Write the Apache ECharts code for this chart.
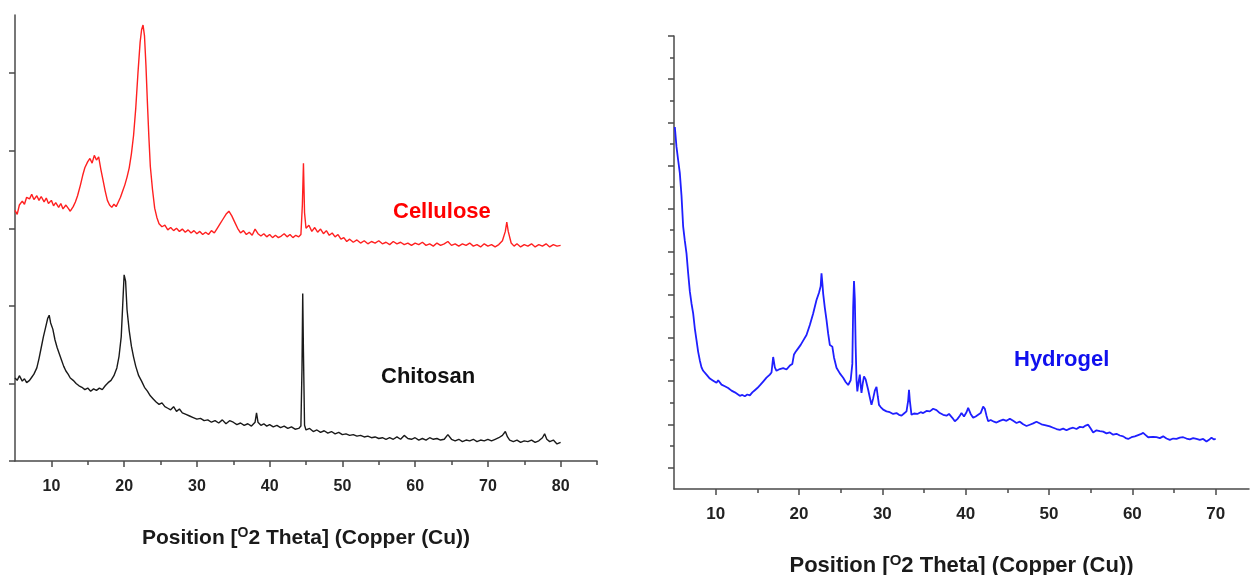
<!DOCTYPE html>
<html>
<head>
<meta charset="utf-8">
<title>XRD patterns</title>
<script src="https://cdn.jsdelivr.net/npm/echarts@6/dist/echarts.min.js"></script>
<style>
  html, body { margin: 0; padding: 0; background: #fff; }
  #chart { width: 1251px; height: 575px; }
</style>
</head>
<body>
<div id="chart"></div>
<script>
// Diffraction patterns: [2θ (deg), intensity (a.u.)]
const cellulose = [
  [5.0,323],[5.3,318],[5.6,330],[6.0,335],[6.3,331],[6.6,340],[7.0,338],[7.3,344],[7.6,337],[8.0,342],
  [8.3,336],[8.6,341],[9.0,334],[9.3,339],[9.6,332],[10.0,336],[10.3,329],[10.6,333],[11.0,327],[11.3,332],
  [11.6,325],[12.0,330],[12.3,326],[12.6,322],[13.0,328],[13.3,334],[13.6,342],[14.0,356],[14.3,368],[14.6,378],
  [15.0,386],[15.3,390],[15.6,384],[15.9,394],[16.2,388],[16.5,392],[16.8,376],[17.1,362],[17.4,348],[17.7,336],
  [18.0,330],[18.3,327],[18.6,331],[18.9,328],[19.2,334],[19.5,340],[19.8,348],[20.1,356],[20.4,366],[20.7,378],
  [21.0,396],[21.3,420],[21.6,455],[21.9,500],[22.2,540],[22.4,556],[22.6,562],[22.8,548],[23.0,510],[23.2,462],
  [23.4,418],[23.6,380],[23.9,350],[24.2,326],[24.5,314],[24.8,306],[25.2,302],[25.6,304],[26.0,298],[26.4,301],
  [26.8,297],[27.2,300],[27.6,296],[28.0,299],[28.4,295],[28.8,298],[29.2,294],[29.6,297],[30.0,293],[30.4,296],
  [30.8,292],[31.2,295],[31.6,292],[32.0,297],[32.4,294],[32.8,300],[33.2,306],[33.6,312],[34.0,318],[34.4,322],
  [34.8,316],[35.2,308],[35.6,300],[36.0,294],[36.4,297],[36.8,292],[37.2,295],[37.6,291],[38.0,299],[38.4,293],
  [38.8,290],[39.2,293],[39.6,289],[40.0,292],[40.4,288],[40.8,291],[41.2,288],[41.6,290],[42.0,293],[42.4,289],
  [42.8,292],[43.2,288],[43.6,291],[44.0,289],[44.3,292],[44.5,330],[44.65,384],[44.8,320],[45.0,300],[45.4,304],
  [45.8,296],[46.2,301],[46.6,295],[47.0,299],[47.4,293],[47.8,297],[48.2,291],[48.6,294],[49.0,289],[49.4,292],
  [49.8,286],[50.2,288],[50.6,283],[51.0,286],[51.5,282],[52.0,285],[52.5,281],[53.0,284],[53.5,280],[54.0,283],
  [54.5,281],[55.0,284],[55.5,280],[56.0,282],[56.5,279],[57.0,283],[57.5,280],[58.0,282],[58.5,279],[59.0,281],
  [59.5,278],[60.0,281],[60.5,279],[61.0,282],[61.5,278],[62.0,280],[62.5,277],[63.0,281],[63.5,278],[64.0,280],
  [64.5,283],[65.0,278],[65.5,280],[66.0,277],[66.5,280],[67.0,278],[67.5,281],[68.0,277],[68.5,279],[69.0,276],
  [69.5,280],[70.0,277],[70.5,279],[71.0,276],[71.5,279],[72.0,284],[72.4,296],[72.6,308],[72.8,296],[73.2,281],
  [73.6,277],[74.0,280],[74.5,276],[75.0,279],[75.5,277],[76.0,280],[76.5,276],[77.0,279],[77.5,277],[78.0,280],
  [78.5,276],[79.0,279],[79.5,277],[80.0,278]
];

const chitosan = [
  [5.0,107],[5.3,104],[5.6,110],[6.0,103],[6.3,106],[6.6,101],[7.0,104],[7.3,108],[7.6,112],[8.0,120],
  [8.3,132],[8.6,146],[8.9,160],[9.2,172],[9.5,184],[9.7,188],[9.9,178],[10.2,170],[10.5,156],[10.8,146],
  [11.1,138],[11.4,130],[11.7,122],[12.0,116],[12.3,112],[12.6,107],[13.0,104],[13.4,100],[13.8,97],[14.2,95],
  [14.6,92],[15.0,94],[15.4,90],[15.8,93],[16.2,91],[16.6,94],[17.0,92],[17.4,97],[17.8,101],[18.2,104],
  [18.6,110],[19.0,120],[19.3,135],[19.6,160],[19.8,200],[20.0,240],[20.2,232],[20.4,195],[20.7,168],[21.0,148],
  [21.3,134],[21.6,122],[22.0,110],[22.4,103],[22.8,95],[23.2,90],[23.6,84],[24.0,80],[24.4,76],[24.8,73],
  [25.2,75],[25.6,70],[26.0,68],[26.4,66],[26.8,70],[27.2,64],[27.6,67],[28.0,62],[28.5,60],[29.0,58],
  [29.5,56],[30.0,54],[30.5,55],[31.0,52],[31.5,53],[32.0,50],[32.5,52],[33.0,49],[33.5,53],[34.0,48],
  [34.5,52],[35.0,50],[35.5,47],[36.0,49],[36.5,46],[37.0,48],[37.5,45],[38.0,50],[38.2,62],[38.4,50],
  [38.8,46],[39.2,48],[39.6,45],[40.0,47],[40.5,44],[41.0,46],[41.5,43],[42.0,45],[42.5,42],[43.0,44],
  [43.5,41],[44.0,42],[44.3,45],[44.45,120],[44.55,216],[44.65,140],[44.8,46],[45.0,40],[45.5,42],[46.0,38],
  [46.5,40],[47.0,37],[47.5,39],[48.0,36],[48.5,38],[49.0,35],[49.5,37],[50.0,34],[50.5,35],[51.0,33],
  [51.5,34],[52.0,32],[52.5,33],[53.0,31],[53.5,32],[54.0,30],[54.5,31],[55.0,29],[55.5,30],[56.0,28],
  [56.5,30],[57.0,28],[57.5,31],[58.0,28],[58.5,33],[59.0,29],[59.5,28],[60.0,30],[60.5,27],[61.0,29],
  [61.5,27],[62.0,30],[62.5,28],[63.0,29],[63.5,27],[64.0,28],[64.5,34],[65.0,28],[65.5,26],[66.0,28],
  [66.5,25],[67.0,27],[67.5,26],[68.0,28],[68.5,25],[69.0,27],[69.5,26],[70.0,28],[70.5,26],[71.0,28],
  [71.5,30],[72.0,33],[72.4,38],[72.7,31],[73.0,27],[73.5,25],[74.0,27],[74.5,24],[75.0,26],[75.5,25],
  [76.0,27],[76.5,24],[77.0,26],[77.5,30],[77.8,35],[78.1,28],[78.5,25],[79.0,27],[79.5,22],[80.0,24]
];

const hydrogel = [
  [5.1,839],[5.3,793],[5.5,762],[5.7,732],[5.9,680],[6.1,608],[6.3,575],[6.5,546],[6.7,500],[6.9,458],
  [7.1,430],[7.3,407],[7.5,372],[7.7,345],[7.9,318],[8.1,298],[8.3,282],[8.5,274],[8.7,270],[8.9,265],
  [9.1,262],[9.3,256],[9.5,258],[9.7,251],[9.9,249],[10.1,246],[10.3,252],[10.5,248],[10.7,242],[10.9,244],
  [11.1,238],[11.3,240],[11.5,234],[11.7,232],[11.9,228],[12.1,226],[12.3,224],[12.6,220],[12.9,216],[13.2,218],
  [13.5,215],[13.8,219],[14.1,217],[14.4,224],[14.7,229],[15.0,234],[15.3,240],[15.7,249],[16.1,258],[16.5,265],
  [16.7,270],[16.9,306],[17.1,282],[17.3,274],[17.7,278],[18.1,280],[18.5,277],[18.9,286],[19.2,290],[19.4,312],
  [19.6,318],[19.9,326],[20.2,334],[20.5,344],[20.9,357],[21.3,380],[21.7,407],[22.1,438],[22.4,455],[22.6,470],
  [22.7,500],[22.8,478],[22.9,453],[23.1,420],[23.3,392],[23.5,360],[23.7,334],[24.0,330],[24.2,305],[24.5,281],
  [24.9,268],[25.3,258],[25.6,248],[25.9,241],[26.2,252],[26.4,290],[26.5,420],[26.6,482],[26.7,440],[26.8,330],
  [26.9,253],[27.0,226],[27.15,248],[27.3,265],[27.4,240],[27.5,223],[27.65,245],[27.8,261],[28.0,254],[28.3,230],
  [28.5,212],[28.7,195],[28.9,210],[29.1,228],[29.3,237],[29.45,215],[29.6,195],[29.8,190],[30.1,184],[30.5,180],
  [30.9,178],[31.3,174],[31.7,176],[32.0,172],[32.3,170],[32.6,175],[32.9,180],[33.1,205],[33.2,230],[33.3,205],
  [33.5,172],[33.8,175],[34.2,174],[34.6,178],[34.9,176],[35.3,181],[35.7,180],[36.1,186],[36.5,183],[36.9,176],
  [37.3,172],[37.7,170],[38.0,174],[38.4,165],[38.7,157],[39.0,162],[39.3,170],[39.5,176],[39.8,168],[40.1,178],
  [40.3,188],[40.6,174],[40.9,165],[41.2,168],[41.5,172],[41.8,176],[42.1,191],[42.3,186],[42.5,170],[42.7,157],
  [43.0,160],[43.4,156],[43.7,154],[44.1,158],[44.5,161],[44.9,158],[45.3,163],[45.7,158],[46.1,153],[46.5,156],
  [46.9,150],[47.3,146],[47.7,149],[48.1,152],[48.5,156],[48.7,154],[49.1,150],[49.5,148],[50.1,145],[50.5,142],
  [50.9,139],[51.3,137],[51.7,140],[52.1,136],[52.5,140],[52.9,142],[53.3,139],[53.7,144],[54.1,143],[54.4,147],
  [54.7,149],[55.0,140],[55.3,131],[55.7,136],[56.1,134],[56.5,133],[56.9,129],[57.3,131],[57.7,126],[58.1,128],
  [58.5,124],[58.9,122],[59.2,118],[59.5,116],[59.9,120],[60.3,122],[60.7,125],[61.0,127],[61.3,130],[61.6,125],
  [61.9,120],[62.1,118],[62.5,121],[62.9,120],[63.3,118],[63.7,122],[64.1,117],[64.5,114],[64.9,117],[65.3,116],
  [65.7,119],[66.1,120],[66.5,117],[66.9,115],[67.3,118],[67.7,116],[68.1,114],[68.5,116],[68.9,110],[69.2,114],
  [69.5,119],[69.8,115],[70.0,116]
];

// Tick positions
const leftMajorX = [10, 20, 30, 40, 50, 60, 70, 80];
const leftMinorX = [15, 25, 35, 45, 55, 65, 75, 85];
const leftMajorY = [0, 100, 200, 300, 400, 500];
const rightMajorX = [10, 20, 30, 40, 50, 60, 70];
const rightMinorX = [15, 25, 35, 45, 55, 65];
const rightMajorY = [50, 150, 250, 350, 450, 550, 650, 750, 850, 950, 1050];
const rightMinorY = [100, 200, 300, 400, 500, 600, 700, 800, 900, 1000];

const FONT = '"Liberation Sans", Arial, Helvetica, sans-serif';
const AXIS_COLOR = '#4a4a4a';
const TITLE = 'Position [{sup|O}2 Theta] (Copper (Cu))';

function xAxisMajor(gridIndex, min, max, ticks, fontSize, margin, gap) {
  return {
    type: 'value', gridIndex, min, max, position: 'bottom',
    name: TITLE, nameLocation: 'middle', nameGap: gap,
    nameTextStyle: {
      fontFamily: FONT, fontWeight: 'bold', fontSize: fontSize + 5, color: '#1a1a1a',
      rich: { sup: { fontFamily: FONT, fontWeight: 'bold', fontSize: fontSize - 2, color: '#1a1a1a', verticalAlign: 'top', padding: [0, 0, 10, 0] } }
    },
    axisLine: { show: true, lineStyle: { color: AXIS_COLOR, width: 1.5 } },
    axisTick: { show: true, inside: false, length: 6, customValues: ticks, lineStyle: { color: AXIS_COLOR, width: 1.5 } },
    axisLabel: { show: true, customValues: ticks, margin, fontFamily: FONT, fontWeight: 'bold', fontSize, color: '#222' },
    splitLine: { show: false }
  };
}

function xAxisMinor(gridIndex, min, max, ticks) {
  return {
    type: 'value', gridIndex, min, max, position: 'bottom', offset: 0,
    axisLine: { show: false },
    axisTick: { show: true, length: 4, customValues: ticks, lineStyle: { color: AXIS_COLOR, width: 1.5 } },
    axisLabel: { show: false },
    splitLine: { show: false }
  };
}

function yAxis(gridIndex, min, max, ticks, len, showLine) {
  return {
    type: 'value', gridIndex, min, max, position: 'left', offset: 0,
    axisLine: { show: showLine, lineStyle: { color: AXIS_COLOR, width: 1.5 } },
    axisTick: { show: true, length: len, customValues: ticks, lineStyle: { color: AXIS_COLOR, width: 1.5 } },
    axisLabel: { show: false },
    splitLine: { show: false }
  };
}

const chart = echarts.init(document.getElementById('chart'), null, { renderer: 'canvas' });

chart.setOption({
  animation: false,
  backgroundColor: '#ffffff',
  grid: [
    { left: 15, top: 15, width: 582, height: 446, outerBoundsMode: 'none', containLabel: false },
    { left: 674, top: 36, width: 575, height: 453, outerBoundsMode: 'none', containLabel: false }
  ],
  xAxis: [
    xAxisMajor(0, 5, 85, leftMajorX, 16, 18, 65),
    xAxisMinor(0, 5, 85, leftMinorX),
    xAxisMajor(1, 5, 74, rightMajorX, 17, 17, 64),
    xAxisMinor(1, 5, 74, rightMinorX)
  ],
  yAxis: [
    yAxis(0, 0, 575, leftMajorY, 6, true),
    yAxis(1, 0, 1050, rightMajorY, 6, true),
    yAxis(1, 0, 1050, rightMinorY, 4, false)
  ],
  series: [
    {
      name: 'Cellulose', type: 'line', xAxisIndex: 0, yAxisIndex: 0,
      data: cellulose, showSymbol: false,
      lineStyle: { color: '#ff2020', width: 1.4 }
    },
    {
      name: 'Chitosan', type: 'line', xAxisIndex: 0, yAxisIndex: 0,
      data: chitosan, showSymbol: false,
      lineStyle: { color: '#1a1a1a', width: 1.4 }
    },
    {
      name: 'Hydrogel', type: 'line', xAxisIndex: 2, yAxisIndex: 1,
      data: hydrogel, showSymbol: false,
      lineStyle: { color: '#1f1fff', width: 1.8 }
    }
  ],
  graphic: [
    { type: 'text', left: 393, top: 201, style: { text: 'Cellulose', fill: '#ff0000', font: 'bold 22px ' + FONT } },
    { type: 'text', left: 381, top: 366, style: { text: 'Chitosan', fill: '#111111', font: 'bold 22px ' + FONT } },
    { type: 'text', left: 1014, top: 349, style: { text: 'Hydrogel', fill: '#1010ee', font: 'bold 22px ' + FONT } }
  ]
});
</script>
</body>
</html>
